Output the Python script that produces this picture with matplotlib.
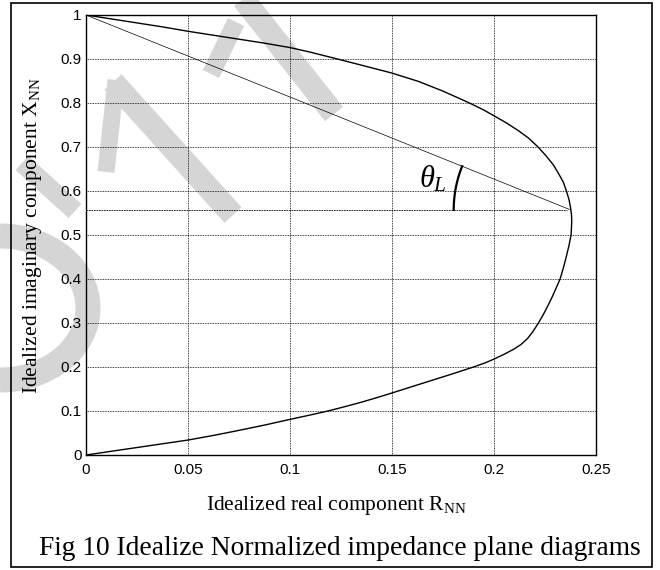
import numpy as np
import matplotlib
matplotlib.use("Agg")
import matplotlib.pyplot as plt
from matplotlib.lines import Line2D
from matplotlib.patches import Rectangle

plt.rcParams['font.family'] = ['Liberation Sans', 'DejaVu Sans']
plt.rcParams['mathtext.fontset'] = 'custom'
plt.rcParams['mathtext.rm'] = 'Liberation Serif'
plt.rcParams['mathtext.it'] = 'Liberation Serif:italic'

# impedance locus, lower branch (from origin up to the knee)
r_lower = [0, 0.0125, 0.025, 0.0375, 0.05, 0.0625, 0.075, 0.0875, 0.1, 0.11,
           0.1186, 0.127, 0.135, 0.143, 0.15, 0.165, 0.178, 0.19, 0.196, 0.2,
           0.205, 0.2095, 0.2132, 0.2163, 0.219, 0.2218, 0.2245, 0.2265, 0.2283,
           0.2305, 0.2324, 0.234, 0.2354, 0.2367, 0.2378]
x_lower = [0, 0.0085, 0.017, 0.0255, 0.034, 0.0445, 0.056, 0.068, 0.081, 0.091,
           0.1, 0.11, 0.12, 0.131, 0.141, 0.163, 0.182, 0.2, 0.21, 0.218,
           0.229, 0.24, 0.251, 0.264, 0.28, 0.3, 0.322, 0.34, 0.357,
           0.38, 0.4, 0.425, 0.45, 0.475, 0.5]

# upper branch (from the knee back to (0, 1))
r_upper = [0.2381, 0.238, 0.2376, 0.2368, 0.2355, 0.234, 0.2316, 0.229, 0.2255,
           0.2216, 0.217, 0.212, 0.206, 0.2, 0.195, 0.188, 0.175, 0.163, 0.15,
           0.135, 0.1224, 0.11, 0.1, 0.0875, 0.075, 0.0625, 0.05, 0.0375,
           0.025, 0.0125, 0]
x_upper = [0.53, 0.545, 0.56, 0.58, 0.6, 0.62, 0.64, 0.66, 0.68,
           0.7, 0.72, 0.737, 0.755, 0.771, 0.784, 0.8, 0.827, 0.849, 0.868,
           0.886, 0.901, 0.9155, 0.926, 0.936, 0.945, 0.954, 0.963, 0.973,
           0.982, 0.991, 1.0]

# lift-off angle construction
tip = (0.2376, 0.557)
top = (0, 1.0)

xticks = [0, 0.05, 0.1, 0.15, 0.2, 0.25]
xtick_labels = ['0', '0.05', '0.1', '0.15', '0.2', '0.25']
yticks = [0, 0.1, 0.2, 0.3, 0.4, 0.5, 0.6, 0.7, 0.8, 0.9, 1.0]
ytick_labels = ['0', '0.1', '0.2', '0.3', '0.4', '0.5', '0.6', '0.7', '0.8', '0.9', '1']

W, H = 660, 570
fig = plt.figure(figsize=(W / 100, H / 100), dpi=100)


def fx(px):
    return px / W


def fy(py):
    return 1 - py / H


# watermark (light grey strokes behind everything)
wm = '#d5d5d5'
strokes = [((240, -5), (334, 114), 23),
           ((236, 22), (211, 74), 18),
           ((113, 82), (233, 215), 23),
           ((116, 80), (106, 172), 17),
           ((22, 163), (75, 211), 19)]
for (x0, y0), (x1, y1), w in strokes:
    fig.add_artist(Line2D([fx(x0), fx(x1)], [fy(y0), fy(y1)], color=wm,
                          lw=w * 0.72, solid_capstyle='butt', zorder=-5))
t = np.linspace(-np.pi / 2, np.pi / 2, 100)
fig.add_artist(Line2D(fx(0 + 88 * np.cos(t)), fy(308 + 72 * np.sin(t)), color=wm,
                      lw=25 * 0.72, solid_capstyle='butt', zorder=-5))

# outer frame
fig.add_artist(Rectangle((fx(11), fy(567)), fx(652) - fx(11), fy(3) - fy(567),
                         fill=False, ec='black', lw=1.2, zorder=5))

ax = fig.add_axes([fx(86), fy(455), fx(596) - fx(86), fy(15) - fy(455)])
ax.set_facecolor('none')
ax.set_xlim(0, 0.25)
ax.set_ylim(0, 1)
ax.set_xticks(xticks)
ax.set_xticklabels(xtick_labels)
ax.set_yticks(yticks)
ax.set_yticklabels(ytick_labels)
ax.tick_params(length=0, labelsize=11)
ax.tick_params(axis='x', pad=6)
ax.tick_params(axis='y', pad=3)
ax.grid(True, color='black', linestyle=(0, (1, 1)), linewidth=0.6)
for s in ax.spines.values():
    s.set_linewidth(1.0)

ax.plot(r_lower + r_upper, x_lower + x_upper, color='black', lw=1.0)
ax.plot([top[0], tip[0]], [top[1], tip[1]], color='black', lw=0.5)
ax.plot([0, tip[0] - 0.002], [tip[1], tip[1]], color='black', lw=0.6,
        linestyle=(0, (2, 1)))

# angle arc, circular in pixel space, centred on the tip
trans = ax.transData
c = trans.transform(tip)
p = trans.transform(top)
ang_end = np.arctan2(p[1] - c[1], p[0] - c[0])
a = np.linspace(np.pi, ang_end, 40)
rad = 117
arc_pts = trans.inverted().transform(np.column_stack([c[0] + rad * np.cos(a),
                                                      c[1] + rad * np.sin(a)]))
ax.plot(arc_pts[:, 0], arc_pts[:, 1], color='black', lw=1.6)
ax.text(0.1634, 0.609, r'$\theta_L$', fontsize=22, ha='left', va='baseline')

fig.text(fx(336), fy(510), r'Idealized real component R$_{\mathrm{NN}}$',
         family='Liberation Serif', fontsize=15.5, ha='center', va='baseline')
fig.text(fx(33), fy(236), r'Idealized imaginary component X$_{\mathrm{NN}}$',
         family='Liberation Serif', fontsize=15.5, ha='center', va='center',
         rotation=90)
fig.text(fx(340), fy(555), 'Fig 10 Idealize Normalized impedance plane diagrams',
         family='Liberation Serif', fontsize=19.8, ha='center', va='baseline')

fig.savefig('out.png', dpi=100)
